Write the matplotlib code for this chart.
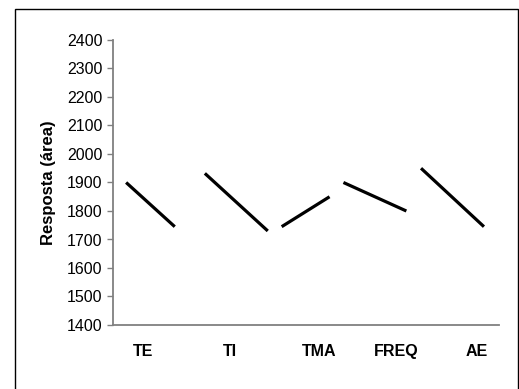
import matplotlib
matplotlib.use("Agg")
import matplotlib.pyplot as plt
from matplotlib.patches import Rectangle

# Data
factors = ["TE", "TI", "TMA", "FREQ", "AE"]
resp_low = [1900, 1932, 1745, 1900, 1950]
resp_high = [1745, 1730, 1850, 1800, 1745]
x_low = [3.4, 23.8, 43.7, 59.7, 79.8]
x_high = [16.0, 40.1, 56.1, 76.0, 96.1]
label_x = [7.8, 30.2, 53.5, 73.4, 94.3]
yticks = list(range(1400, 2401, 100))

plt.rcParams['font.family'] = ['Liberation Sans', 'DejaVu Sans']

W, H = 519, 389
fig = plt.figure(figsize=(W / 100, H / 100), dpi=100)
ax = fig.add_axes([113 / W, 1 - 325 / H, 386 / W, 285 / H])

for xl, xh, yl, yh in zip(x_low, x_high, resp_low, resp_high):
    ax.plot([xl, xh], [yl, yh], color="black", lw=2.3, solid_capstyle="butt")

ax.set_xlim(0, 100)
ax.set_ylim(1400, 2400)
ax.set_yticks(yticks)
ax.set_yticklabels([str(v) for v in yticks], fontsize=11.5)
ax.set_xticks([])
for name, lx in zip(factors, label_x):
    ax.text(lx, 1400 - 26 * 1000 / 285, name, ha="center", va="center",
            fontsize=11.5, fontweight="bold")

for s in ["top", "right"]:
    ax.spines[s].set_visible(False)
for s in ["left", "bottom"]:
    ax.spines[s].set_color("#808080")
    ax.spines[s].set_linewidth(1.3)
ax.tick_params(axis="y", length=4.5, width=1, color="#808080", pad=3)

ax.set_ylabel("Resposta (área)", fontsize=12, fontweight="bold", labelpad=8)

rect = Rectangle((15 / W, -0.05), (518 - 15) / W, 1 - 9 / H + 0.05,
                 transform=fig.transFigure, fill=False, edgecolor="black",
                 lw=1.0, clip_on=False)
fig.patches.append(rect)

fig.savefig("out.png", dpi=100)
